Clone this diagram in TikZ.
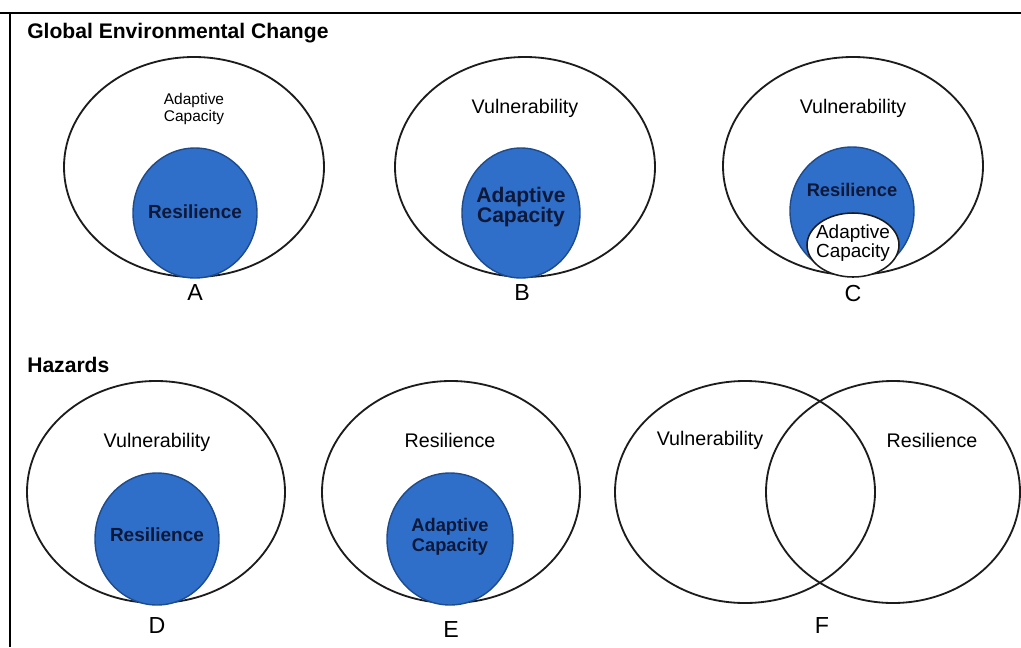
\documentclass[tikz,border=0pt]{standalone}
\usepackage{fontspec}
\setmainfont{Liberation Sans}
\definecolor{venblue}{HTML}{2F6FC9}
\definecolor{venedge}{HTML}{1D4B8C}
\definecolor{venink}{HTML}{0E1838}
\definecolor{venline}{HTML}{1C1C1C}
\tikzset{outer/.style={draw=venline, line width=1.3pt},
    core/.style={fill=venblue, draw=venedge, line width=1pt},
    hole/.style={fill=white, draw=venline, line width=1.1pt},
    lbl/.style={align=center, inner sep=0pt, font=\fontsize{14}{14}\selectfont},
    inlbl/.style={align=center, inner sep=0pt, text=venink, font=\bfseries\fontsize{13.5}{13.5}\selectfont},
    tag/.style={inner sep=0pt, font=\fontsize{16.5}{16.5}\selectfont},
    head/.style={anchor=west, inner sep=0pt, font=\bfseries\fontsize{15}{15}\selectfont},
    }

\begin{document}
\begin{tikzpicture}[x=0.025cm, y=-0.025cm]
	\useasboundingbox (0,0) rectangle (1021,647);
	\draw[line width=1.6pt] (0,13) -- (1021,13);
	\draw[line width=1.8pt] (10,13) -- (10,647);

	% global environmental change
	\node[head] (gec) at (27,33) {Global Environmental Change};
	\draw[outer] (194,167) ellipse [x radius=130, y radius=110];
	\draw[core] (195,213) ellipse [x radius=62, y radius=65];
	\node[lbl, font=\fontsize{11}{12.5}\selectfont] (acA) at (194,109) {Adaptive\\Capacity};
	\node[inlbl] (resA) at (195,212) {Resilience};
	\node[tag] (tagA) at (195,293) {A};

	\draw[outer] (525,167) ellipse [x radius=130, y radius=110];
	\draw[core] (521,213) ellipse [x radius=59, y radius=65];
	\node[lbl] (vulB) at (525,108) {Vulnerability};
	\node[inlbl, font=\bfseries\fontsize{15}{14}\selectfont] (acB) at (521,207) {Adaptive\\Capacity};
	\node[tag] (tagB) at (522,293) {B};

	\draw[outer] (853,166) ellipse [x radius=130, y radius=109];
	\draw[core] (852,211) ellipse [x radius=62, y radius=64];
	\draw[hole] (853,245) ellipse [x radius=46, y radius=32];
	\node[lbl] (vulC) at (853,108) {Vulnerability};
	\node[inlbl, font=\bfseries\fontsize{13}{13}\selectfont] (resC) at (852,190) {Resilience};
	\node[lbl, font=\fontsize{13.5}{13.5}\selectfont] (acC) at (853,243) {Adaptive\\Capacity};
	\node[tag] (tagC) at (853,294) {C};

	% hazards
	\node[head] (haz) at (27,365) {Hazards};
	\draw[outer] (156,492) ellipse [x radius=129, y radius=111];
	\draw[core] (157,539) ellipse [x radius=62, y radius=66];
	\node[lbl] (vulD) at (157,442) {Vulnerability};
	\node[inlbl] (resD) at (157,535) {Resilience};
	\node[tag] (tagD) at (157,626) {D};

	\draw[outer] (451,492) ellipse [x radius=129, y radius=111];
	\draw[core] (450,539) ellipse [x radius=63, y radius=66];
	\node[lbl] (resE) at (450,440) {Resilience};
	\node[inlbl, font=\bfseries\fontsize{13}{14.5}\selectfont] (acE) at (450,537) {Adaptive\\Capacity};
	\node[tag] (tagE) at (451,630) {E};

	\draw[outer] (745,492) ellipse [x radius=130, y radius=111];
	\draw[outer] (893,492) ellipse [x radius=127, y radius=111];
	\node[lbl] (vulF) at (710,440) {Vulnerability};
	\node[lbl] (resF) at (932,440) {Resilience};
	\node[tag] (tagF) at (822,626) {F};
\end{tikzpicture}
\end{document}
